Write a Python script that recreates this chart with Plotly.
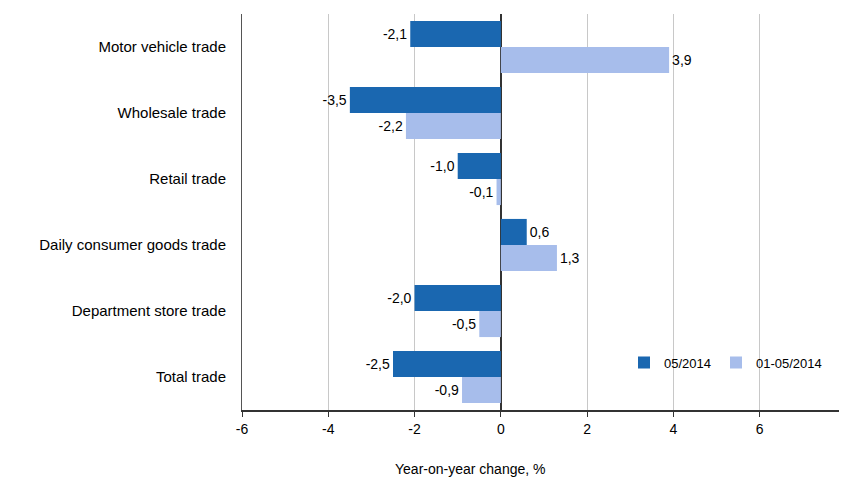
import plotly.graph_objects as go

categories = ["Motor vehicle trade", "Wholesale trade", "Retail trade",
              "Daily consumer goods trade", "Department store trade", "Total trade"]
series_names = ["05/2014", "01-05/2014"]
values_month = [-2.1, -3.5, -1.0, 0.6, -2.0, -2.5]
values_period = [3.9, -2.2, -0.1, 1.3, -0.5, -0.9]
x_ticks = [-6, -4, -2, 0, 2, 4, 6, 8]

colors = ["#1A67B0", "#A7BDEB"]

def fmt(v):
    return f"{v:.1f}".replace(".", ",")

fig = go.Figure()
for name, vals, col in zip(series_names, [values_month, values_period], colors):
    fig.add_trace(go.Bar(
        y=categories, x=vals, orientation="h", name=name,
        marker=dict(color=col, line=dict(width=0)),
        text=[fmt(v) for v in vals], textposition="outside",
        textfont=dict(family="Liberation Sans, Arial", size=14, color="#000000"),
        cliponaxis=False, constraintext="none",
    ))

# page has an 8px body margin, so figure is offset by (8, 8)
fig.update_layout(
    width=839, height=469,
    margin=dict(l=234, r=1, t=6, b=67, autoexpand=False),
    paper_bgcolor="white", plot_bgcolor="white",
    barmode="group", bargap=0.21, bargroupgap=0,
    font=dict(family="Liberation Sans, Arial", size=14, color="#000000"),
    xaxis=dict(range=[-6, 8], tickvals=x_ticks, ticktext=[str(t) for t in x_ticks],
               automargin=False, ticklabeloverflow="allow",
               showgrid=True, gridcolor="#C8C8C8", gridwidth=1,
               zeroline=True, zerolinecolor="#333333", zerolinewidth=1.5,
               showline=True, linecolor="#333333", linewidth=1.5,
               ticks="outside", ticklen=5, tickcolor="#333333",
               tickfont=dict(size=14)),
    yaxis=dict(autorange="reversed", showgrid=False, zeroline=False, automargin=False,
               showline=True, linecolor="#555555", linewidth=1,
               ticks="", ticklabelstandoff=12, tickfont=dict(size=15)),
    legend=dict(orientation="h", x=(624 - 242) / 604, y=0.12, xanchor="left", yanchor="middle",
                bgcolor="rgba(0,0,0,0)", font=dict(size=13),
                itemwidth=30, tracegroupgap=0),
    annotations=[dict(text="Year-on-year change, %", xref="paper", yref="paper",
                      x=(470 - 242) / 604, y=-0.150, xanchor="center", yanchor="middle",
                      showarrow=False, font=dict(size=14))],
)

fig.write_html("out.html")
